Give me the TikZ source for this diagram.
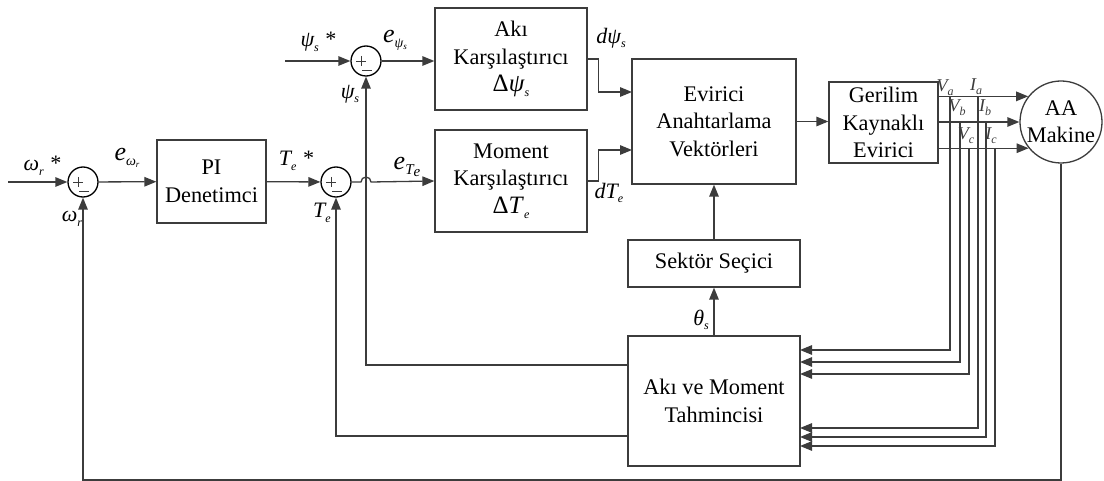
\documentclass[tikz,border=0pt]{standalone}
\usepackage{fontspec}
\setmainfont{Liberation Serif}
\usetikzlibrary{arrows.meta,calc}
\definecolor{ln}{RGB}{60,60,60}
% italic symbol with a lowered italic subscript
\newcommand\sbx[2]{#1\raisebox{-0.45ex}{\fontsize{12}{12}\selectfont\itshape #2}}
\begin{document}
\begin{tikzpicture}[x=1pt,y=-1pt,
  wire/.style={draw=ln,line width=1.3pt},
  arr/.style={wire,-{Triangle[length=12pt,width=9.5pt]}},
  blk/.style={draw=ln,line width=1.3pt,fill=white,inner sep=0pt,align=center,
              font=\fontsize{22.3}{27.5}\selectfont},
  sumc/.style={circle,draw=black,line width=1.3pt,minimum size=30pt,inner sep=0pt},
  lbl/.style={inner sep=0pt,font=\fontsize{22}{22}\selectfont\itshape},
  vil/.style={inner sep=0pt,text=ln,font=\fontsize{18}{18}\selectfont\itshape},
  sgn/.style={draw=ln,line width=0.8pt}]
\useasboundingbox (0,0) rectangle (1104,481);

% blocks
\node[blk,minimum width=109pt,minimum height=83pt] (pi) at (211.5,181.5) {PI\\Denetimci};
\node[blk,minimum width=152pt,minimum height=102pt] (aki) at (511,59)
  {Akı\\Karşılaştırıcı\\{\fontsize{25}{25}\selectfont Δ\sbx{\textit{ψ}}{s}}};
\node[blk,minimum width=152pt,minimum height=102pt] (mom) at (511,181)
  {Moment\\Karşılaştırıcı\\{\fontsize{25}{25}\selectfont Δ\sbx{\textit{T}}{e}}};
\node[blk,minimum width=164pt,minimum height=125pt] (evr) at (714,121.5)
  {Evirici\\Anahtarlama\\Vektörleri};
\node[blk,minimum width=109pt,minimum height=81pt] (ger) at (883.5,122.5)
  {Gerilim\\Kaynaklı\\Evirici};
\node[blk,circle,minimum size=82pt] (mac) at (1061,122) {AA\\Makine};
\node[blk,minimum width=172pt,minimum height=47pt] (sek) at (714,263.5) {Sektör Seçici};
\node[blk,minimum width=172pt,minimum height=130pt] (est) at (714,401)
  {Akı ve Moment\\Tahmincisi};

% summing junctions
\node[sumc] (s1) at (83,182) {};
\node[sumc] (s2) at (336,182) {};
\node[sumc] (s3) at (366,61) {};
\foreach \s in {s1,s2,s3}{
  \draw[sgn] ([shift={(-10,0)}]\s.center) -- ([shift={(0,0)}]\s.center);
  \draw[sgn] ([shift={(-5,-5)}]\s.center) -- ([shift={(-5,5)}]\s.center);
  \draw[sgn] ([shift={(-4,9)}]\s.center) -- ([shift={(6,9)}]\s.center);
}

% free ends and branch points
\coordinate (in1) at (8,182);
\coordinate (in3) at (285,61);
\coordinate (ev1) at (632,92);
\coordinate (ev2) at (632,150);
\coordinate (ta) at (950,97);
\coordinate (tb) at (960,122);
\coordinate (tc) at (969,148);
\coordinate (tia) at (978,97);
\coordinate (tib) at (986,122);
\coordinate (tic) at (995,148);
\coordinate (ea) at (800,350);
\coordinate (eb) at (800,362);
\coordinate (ec) at (800,374);
\coordinate (eia) at (800,428);
\coordinate (eib) at (800,437);
\coordinate (eic) at (800,446);
\coordinate (ew1) at (628,365);
\coordinate (ew2) at (628,436);
\coordinate (fb) at (83,480);

% speed loop
\draw[arr] (in1) -- (s1);
\draw[arr] (s1) -- (pi);
\draw[arr] (pi) -- (s2);
\draw[arr] (s2.east) -- (361,182) arc (180:360:5) -- (mom.west);

% flux loop
\draw[arr] (in3) -- (s3);
\draw[arr] (s3) -- (aki.west |- s3);

% comparator outputs into switching table
\draw[arr] (aki.east) -- ++(11,0) |- (ev1);
\draw[arr] (mom.east) -- ++(11,0) |- (ev2);

% inverter and machine
\draw[arr] (evr.east) -- (evr.east -| ger.west);
\draw[arr] (mac.142.4 -| ger.east) -- (mac.142.4);
\draw[arr] (mac.west -| ger.east) -- (mac.west);
\draw[arr] (mac.219.4 -| ger.east) -- (mac.219.4);

% measured voltages and currents
\draw[arr] (ta) |- (ea);
\draw[arr] (tb) |- (eb);
\draw[arr] (tc) |- (ec);
\draw[arr] (tia) |- (eia);
\draw[arr] (tib) |- (eib);
\draw[arr] (tic) |- (eic);

% estimator outputs
\draw[arr] (ew1) -| (s3.south);
\draw[arr] (ew2) -| (s2.south);
\draw[arr] (est.north) -- (sek.south);
\draw[arr] (sek.north) -- (evr.south);

% speed feedback
\draw[arr] (mac.south) |- (fb) -- (s1.south);

% signal labels
\node[lbl] (lwr) at (42,166) {\sbx{ω}{r} *};
\node[lbl] (lewr) at (127,158) {{\fontsize{26}{26}\selectfont e}\raisebox{-0.5ex}{\fontsize{14}{14}\selectfont ω\raisebox{-0.4ex}{\fontsize{9}{9}\selectfont r}}};
\node[lbl] (lwf) at (72,219) {\sbx{ω}{r}};
\node[lbl] (lte) at (296,161) {\sbx{T}{e} *};
\node[lbl] (ltf) at (322,213) {\sbx{T}{e}};
\node[lbl] (lps) at (318,42) {\sbx{ψ}{s} *};
\node[lbl] (leps) at (395,40) {{\fontsize{26}{26}\selectfont e}\raisebox{-0.5ex}{\fontsize{14}{14}\selectfont ψ\raisebox{-0.4ex}{\fontsize{9}{9}\selectfont s}}};
\node[lbl] (lpsf) at (350,94) {\sbx{ψ}{s}};
\node[lbl] (lete) at (407,167) {{\fontsize{26}{26}\selectfont e}\raisebox{-0.5ex}{\fontsize{15}{15}\selectfont T\raisebox{-0.2ex}{e}}};
\node[lbl] (ldp) at (611,38) {d\sbx{ψ}{s}};
\node[lbl] (ldt) at (609,193) {d\sbx{T}{e}};
\node[lbl] (lth) at (701,320) {\sbx{θ}{s}};
\node[vil] (lva) at (945,88) {\sbx{V}{a}};
\node[vil] (lia) at (976,87) {\sbx{I}{a}};
\node[vil] (lvb) at (957,108) {\sbx{V}{b}};
\node[vil] (lib) at (985,108) {\sbx{I}{b}};
\node[vil] (lvc) at (966,136) {\sbx{V}{c}};
\node[vil] (lic) at (991,136) {\sbx{I}{c}};
\end{tikzpicture}
\end{document}
